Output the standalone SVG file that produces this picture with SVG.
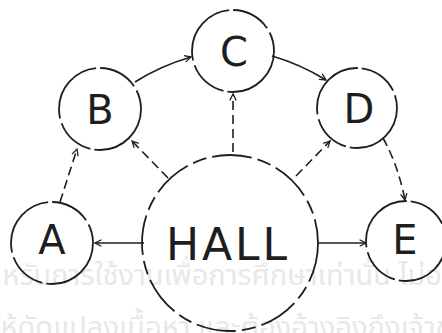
<svg xmlns="http://www.w3.org/2000/svg" width="442" height="333" viewBox="0 0 442 333">
<style>
.node circle{fill:none;stroke:#1e1e1e;stroke-width:1.8;stroke-dasharray:70 4 40 5}
.node text{font-family:"DejaVu Sans","Liberation Sans",sans-serif;font-size:40px;fill:#1e1e1e;text-anchor:middle}
.edge{fill:none;stroke:#1e1e1e;stroke-width:1.6;marker-end:url(#arr)}
.dash{stroke-dasharray:9 5}
.wm{font-family:"Noto Sans Thai","Noto Serif Thai","Loma","Garuda",sans-serif;font-size:29px;fill:#e8e8e8}
</style>
<defs>
<marker id="arr" viewBox="0 0 10 10" refX="9" refY="5" markerWidth="8" markerHeight="8" markerUnits="userSpaceOnUse" orient="auto">
<path d="M1,1 L9,5 L1,9" fill="none" stroke="#1e1e1e" stroke-width="1.6"/>
</marker>
</defs>
<rect width="442" height="333" fill="#ffffff"/>
<g id="watermark">
<text class="wm" x="-26" y="285">สำหรับการใช้งานเพื่อการศึกษาเท่านั้น ไม่อนุญาต</text>
<text class="wm" x="-8" y="337">ให้ดัดแปลงเนื้อหา และต้องอ้างอิงถึงเจ้าของ</text>
</g>
<g id="edges">
<path class="edge" d="M144,243 L95,243"/>
<path class="edge" d="M318,243 L366,243"/>
<path class="edge dash" d="M233,152 L233,94"/>
<path class="edge dash" d="M168,178 L132,141"/>
<path class="edge dash" d="M296,176 L330,141"/>
<path class="edge dash" d="M60,202 L77,149"/>
<path class="edge" d="M135,82 Q160,66 191,57"/>
<path class="edge" d="M272,56 Q300,64 326,80"/>
<path class="edge dash" d="M383,138 Q398,165 405,200"/>
</g>
<g id="node-hall" class="node"><circle cx="230" cy="243" r="88" style="stroke-dasharray:40 6 14 6"/><text x="228" y="260" style="font-size:44px;letter-spacing:3px">HALL</text></g>
<g id="node-a" class="node"><circle cx="52" cy="243" r="41"/><text x="52" y="254">A</text></g>
<g id="node-b" class="node"><circle cx="100" cy="109" r="41"/><text x="100" y="124">B</text></g>
<g id="node-c" class="node"><circle cx="233" cy="51" r="41"/><text x="234" y="66">C</text></g>
<g id="node-d" class="node"><circle cx="357" cy="108" r="40"/><text x="359" y="123">D</text></g>
<g id="node-e" class="node"><circle cx="406" cy="241" r="40"/><text x="405" y="254">E</text></g>
</svg>
